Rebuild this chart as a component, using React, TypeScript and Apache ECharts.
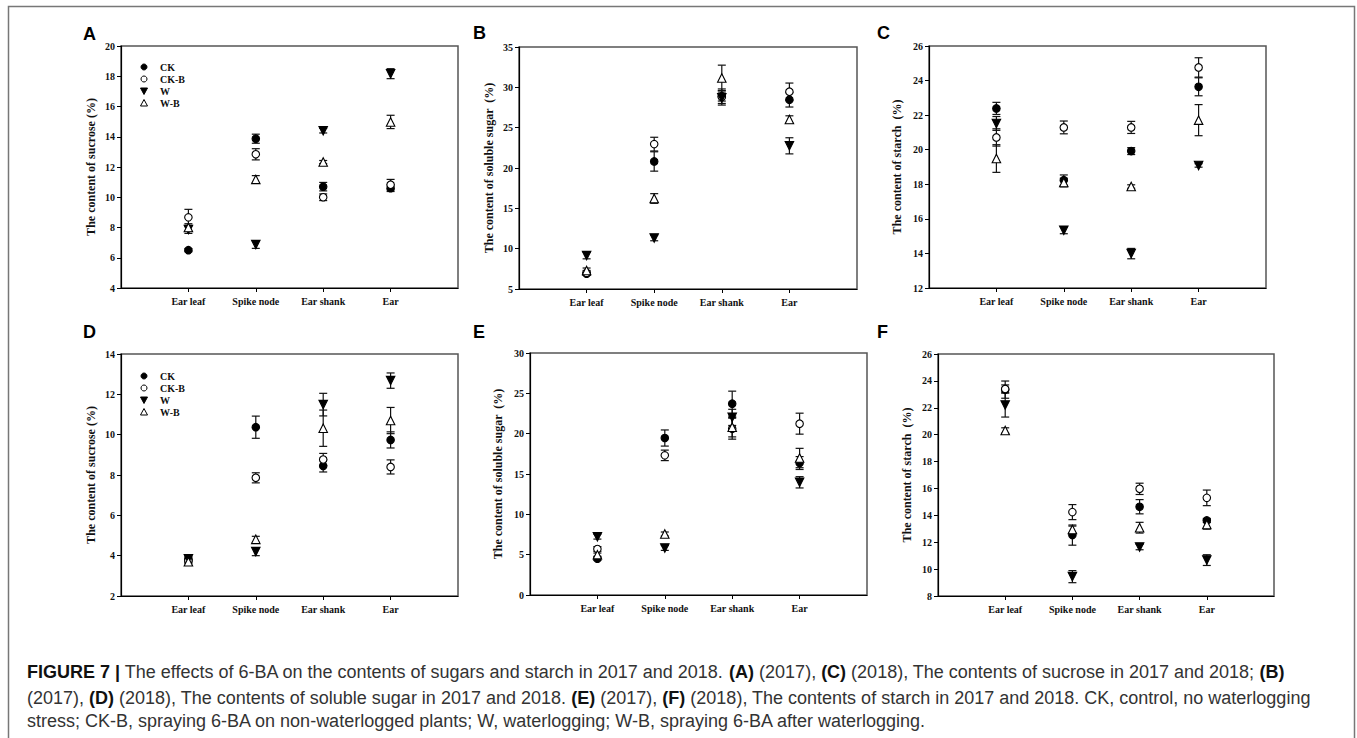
import React, { useEffect, useRef } from "react";
import * as echarts from "echarts";

const categories = ["Ear leaf", "Spike node", "Ear shank", "Ear"];
const treatments = ["CK", "CK-B", "W", "W-B"];

// Panel A – sucrose (2017)
const aCK = [6.5, 13.87, 10.7, 10.6];
const aCKB = [8.67, 12.84, 10.0, 10.83];
const aW = [7.86, 6.87, 14.4, 18.17];
const aWB = [8.0, 11.18, 12.33, 14.98];
const aCKErr = [0.1, 0.3, 0.28, 0.22];
const aCKBErr = [0.53, 0.37, 0.22, 0.35];
const aWErr = [0.25, 0.25, 0.15, 0.33];
const aWBErr = [0.25, 0.25, 0.1, 0.44];

// Panel B – soluble sugar (2017)
const bCK = [6.9, 20.81, 28.9, 28.46];
const bCKB = [7.0, 22.96, 28.8, 29.46];
const bW = [9.14, 11.33, 28.7, 22.75];
const bWB = [7.3, 16.22, 31.15, 26.02];
const bCKErr = [0.2, 1.2, 0.9, 0.9];
const bCKBErr = [0.3, 0.85, 0.5, 1.07];
const bWErr = [0.4, 0.35, 0.9, 1.0];
const bWBErr = [0.3, 0.6, 1.6, 0.45];

// Panel C – starch (2017)
const cCK = [22.39, 18.24, 19.92, 23.64];
const cCKB = [20.71, 21.29, 21.29, 24.76];
const cW = [21.52, 15.34, 13.99, 19.09];
const cWB = [19.49, 18.1, 17.87, 21.71];
const cCKErr = [0.35, 0.3, 0.2, 0.52];
const cCKBErr = [0.5, 0.37, 0.35, 0.56];
const cWErr = [0.4, 0.2, 0.3, 0.1];
const cWBErr = [0.8, 0.25, 0.1, 0.9];

// Panel D – sucrose (2018)
const dCK = [3.8, 10.37, 8.45, 9.74];
const dCKB = [3.75, 7.86, 8.77, 8.4];
const dW = [3.85, 4.2, 11.49, 12.68];
const dWB = [3.7, 4.81, 10.32, 10.7];
const dCKErr = [0.1, 0.55, 0.3, 0.4];
const dCKBErr = [0.1, 0.25, 0.3, 0.35];
const dWErr = [0.1, 0.2, 0.56, 0.38];
const dWBErr = [0.1, 0.15, 0.9, 0.65];

// Panel E – soluble sugar (2018)
const eCK = [4.5, 19.46, 23.72, 16.36];
const eCKB = [5.7, 17.31, 20.62, 21.24];
const eW = [7.23, 5.83, 22.02, 13.97];
const eWB = [5.0, 7.56, 20.8, 16.98];
const eCKErr = [0.2, 1.0, 1.55, 0.8];
const eCKBErr = [0.3, 0.65, 1.3, 1.3];
const eWErr = [0.3, 0.3, 1.0, 0.7];
const eWBErr = [0.2, 0.25, 1.2, 1.2];

// Panel F – starch (2018)
const fCK = [23.35, 12.53, 14.64, 13.62];
const fCKB = [23.4, 14.24, 15.97, 15.3];
const fW = [22.21, 9.44, 11.64, 10.67];
const fWB = [20.31, 12.95, 13.08, 13.32];
const fCKErr = [0.64, 0.75, 0.53, 0.15];
const fCKBErr = [0.3, 0.56, 0.42, 0.58];
const fWErr = [0.9, 0.45, 0.2, 0.4];
const fWBErr = [0.2, 0.25, 0.4, 0.35];

const yTitles = [
  "The content of sucrose (%)",
  "The content of soluble sugar  (%)",
  "The content of starch  (%)",
  "The content of sucrose (%)",
  "The content of soluble sugar  (%)",
  "The content of starch  (%)",
];
const yRanges = [
  [4, 20, 2],
  [5, 35, 5],
  [12, 26, 2],
  [2, 14, 2],
  [0, 30, 5],
  [8, 26, 2],
];
const panelLetters = ["A", "B", "C", "D", "E", "F"];

const panelMeans = [
  [aCK, aCKB, aW, aWB],
  [bCK, bCKB, bW, bWB],
  [cCK, cCKB, cW, cWB],
  [dCK, dCKB, dW, dWB],
  [eCK, eCKB, eW, eWB],
  [fCK, fCKB, fW, fWB],
];
const panelErrs = [
  [aCKErr, aCKBErr, aWErr, aWBErr],
  [bCKErr, bCKBErr, bWErr, bWBErr],
  [cCKErr, cCKBErr, cWErr, cWBErr],
  [dCKErr, dCKBErr, dWErr, dWBErr],
  [eCKErr, eCKBErr, eWErr, eWBErr],
  [fCKErr, fCKBErr, fWErr, fWBErr],
];

// layout (page pixels)
const grids = [
  { left: 121, top: 46, width: 337, height: 242 },
  { left: 519, top: 47, width: 338, height: 242 },
  { left: 929, top: 46, width: 337, height: 242 },
  { left: 121, top: 354, width: 337, height: 242 },
  { left: 530, top: 353, width: 337, height: 242 },
  { left: 938, top: 354, width: 336, height: 242 },
];
const nameGaps = [24, 24, 26, 24, 26, 25];
const letterPos = [
  [83, 34],
  [473, 33],
  [877, 33],
  [83, 332],
  [473, 332],
  [877, 332],
];
const legendPos = [
  [144, 67],
  null,
  null,
  [144, 376],
  null,
  null,
];

const SERIF = "'Liberation Serif', 'Times New Roman', serif";
const SANS = "'Liberation Sans', Arial, Helvetica, sans-serif";

const markerStyles = [
  { symbol: "circle", rotate: 0, fill: "#000" },
  { symbol: "circle", rotate: 0, fill: "#fff" },
  { symbol: "triangle", rotate: 180, fill: "#000" },
  { symbol: "triangle", rotate: 0, fill: "#fff" },
];

function buildOption() {
  const xAxis: any[] = [];
  const yAxis: any[] = [];
  const series: any[] = [];
  const graphic: any[] = [];

  grids.forEach((g, i) => {
    const [ymin, ymax, yint] = yRanges[i];
    xAxis.push({
      gridIndex: i,
      type: "value",
      min: 0,
      max: 5,
      interval: 1,
      axisLine: { show: true, onZero: false, lineStyle: { color: "#000", width: 1.2 } },
      axisTick: { show: true, length: 4, lineStyle: { color: "#000" }, customValues: [1, 2, 3, 4] },
      axisLabel: {
        customValues: [1, 2, 3, 4],
        formatter: (v: number) => categories[v - 1] || "",
        fontFamily: SERIF,
        fontWeight: "bold",
        fontSize: 10,
        color: "#111",
        margin: 8,
      },
      splitLine: { show: false },
    });
    yAxis.push({
      gridIndex: i,
      type: "value",
      min: ymin,
      max: ymax,
      interval: yint,
      name: yTitles[i],
      nameLocation: "middle",
      nameRotate: 90,
      nameGap: nameGaps[i],
      nameTextStyle: { fontFamily: SERIF, fontWeight: "bold", fontSize: 12, color: "#111" },
      axisLine: { show: true, onZero: false, lineStyle: { color: "#000", width: 1.2 } },
      axisTick: { show: true, length: 4, lineStyle: { color: "#000" } },
      axisLabel: { fontFamily: SERIF, fontWeight: "bold", fontSize: 10, color: "#111", margin: 6 },
      splitLine: { show: false },
    });

    // error bars
    panelMeans[i].forEach((means, t) => {
      const errs = panelErrs[i][t];
      series.push({
        type: "custom",
        name: treatments[t] + " err",
        xAxisIndex: i,
        yAxisIndex: i,
        z: 2,
        data: means.map((m, k) => [k + 1, m, errs[k]]),
        renderItem: (params: any, api: any) => {
          const x = api.value(0);
          const y = api.value(1);
          const e = api.value(2);
          const top = api.coord([x, y + e]);
          const bot = api.coord([x, y - e]);
          const hw = 4;
          const st = { stroke: "#111", lineWidth: 1.2 };
          return {
            type: "group",
            children: [
              { type: "line", shape: { x1: top[0], y1: top[1], x2: bot[0], y2: bot[1] }, style: st },
              { type: "line", shape: { x1: top[0] - hw, y1: top[1], x2: top[0] + hw, y2: top[1] }, style: st },
              { type: "line", shape: { x1: bot[0] - hw, y1: bot[1], x2: bot[0] + hw, y2: bot[1] }, style: st },
            ],
          };
        },
      });
    });
    // markers
    panelMeans[i].forEach((means, t) => {
      const ms = markerStyles[t];
      series.push({
        type: "scatter",
        name: treatments[t],
        xAxisIndex: i,
        yAxisIndex: i,
        z: 3,
        symbol: ms.symbol,
        symbolRotate: ms.rotate,
        symbolSize: ms.symbol === "circle" ? 7.5 : 8.5,
        itemStyle: { color: ms.fill, borderColor: "#000", borderWidth: 1.1, opacity: 1 },
        data: means.map((m, k) => [k + 1, m]),
      });
    });

    // panel letter
    graphic.push({
      type: "text",
      left: letterPos[i][0],
      top: letterPos[i][1] - 9,
      style: { text: panelLetters[i], font: `bold 18px ${SANS}`, fill: "#000" },
    });

    // legend
    const lp = legendPos[i];
    if (lp) {
      treatments.forEach((name, t) => {
        const cx = lp[0];
        const cy = lp[1] + t * 12;
        const ms = markerStyles[t];
        if (ms.symbol === "circle") {
          graphic.push({
            type: "circle",
            shape: { cx, cy, r: 3 },
            style: { fill: ms.fill, stroke: "#000", lineWidth: 1 },
          });
        } else {
          const pts = ms.rotate
            ? [[cx - 3.5, cy - 3], [cx + 3.5, cy - 3], [cx, cy + 3.5]]
            : [[cx - 3.5, cy + 3], [cx + 3.5, cy + 3], [cx, cy - 3.5]];
          graphic.push({
            type: "polygon",
            shape: { points: pts },
            style: { fill: ms.fill, stroke: "#000", lineWidth: 1 },
          });
        }
        graphic.push({
          type: "text",
          x: cx + 16,
          y: cy,
          style: {
            text: name,
            font: `bold 10px ${SERIF}`,
            fill: "#111",
            textVerticalAlign: "middle",
          },
        });
      });
    }
  });

  // outer frame
  graphic.push({
    type: "rect",
    shape: { x: 8.5, y: 6.5, width: 1346, height: 760 },
    style: { fill: "none", stroke: "#777", lineWidth: 1.5 },
    z: -1,
  });

  // caption
  const rich = {
    b: { fontFamily: SANS, fontWeight: "bold", fontSize: 18, fill: "#111" },
    n: { fontFamily: SANS, fontSize: 18, fill: "#333" },
  };
  const captionLines = [
    "{b|FIGURE 7 |}{n| The effects of 6-BA on the contents of sugars and starch in 2017 and 2018. }{b|(A)}{n| (2017), }{b|(C)}{n| (2018), The contents of sucrose in 2017 and 2018; }{b|(B)}",
    "{n|(2017), }{b|(D)}{n| (2018), The contents of soluble sugar in 2017 and 2018. }{b|(E)}{n| (2017), }{b|(F)}{n| (2018), The contents of starch in 2017 and 2018. CK, control, no waterlogging}",
    "{n|stress; CK-B, spraying 6-BA on non-waterlogged plants; W, waterlogging; W-B, spraying 6-BA after waterlogging.}",
  ];
  const lineY = [672, 698, 721];
  captionLines.forEach((txt, k) => {
    graphic.push({
      type: "text",
      x: 27,
      y: lineY[k],
      style: { text: txt, rich, textVerticalAlign: "middle", fontSize: 18, fontFamily: SANS },
    });
  });

  return {
    animation: false,
    backgroundColor: "#fff",
    grid: grids.map((g) => ({
      ...g,
      show: true,
      borderColor: "#555",
      borderWidth: 1.5,
      backgroundColor: "transparent",
      containLabel: false,
    })),
    xAxis,
    yAxis,
    series,
    graphic,
  };
}

export default function App() {
  const ref = useRef<HTMLDivElement>(null);
  useEffect(() => {
    if (!ref.current) return;
    const chart = echarts.init(ref.current, undefined, { renderer: "svg" });
    chart.setOption(buildOption() as any);
    return () => chart.dispose();
  }, []);
  return (
    <div
      ref={ref}
      style={{ position: "absolute", left: 0, top: 0, width: 1357, height: 738, background: "#fff" }}
    />
  );
}
